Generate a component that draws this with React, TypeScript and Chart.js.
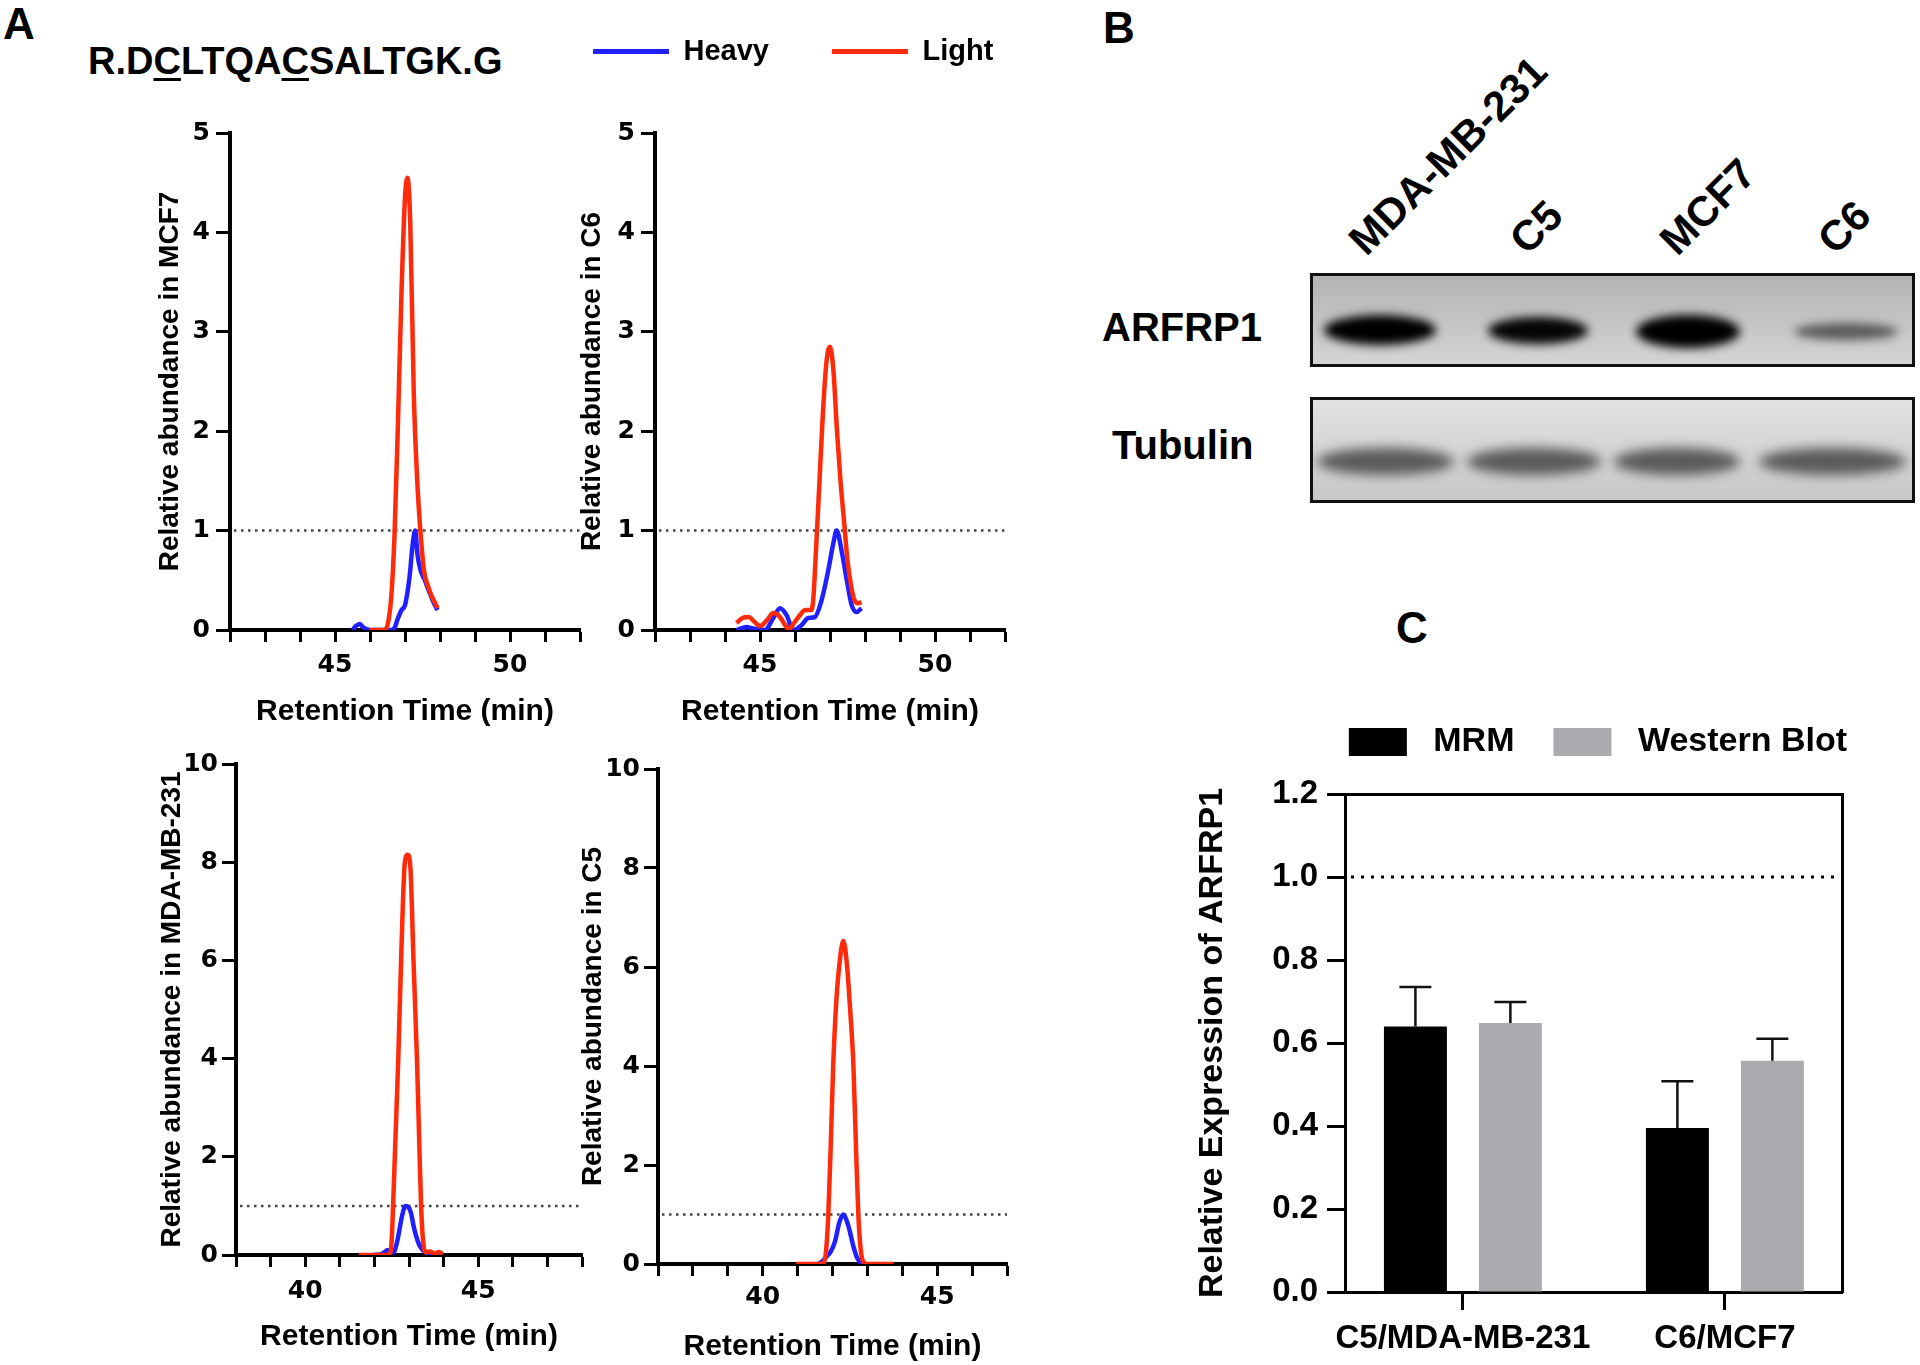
import React, { useEffect, useRef } from 'react';
import { Chart, registerables } from 'chart.js';

Chart.register(...registerables);

const FONT = "'Liberation Sans', Arial, Helvetica, sans-serif";
const TICK_FONT = "'DejaVu Sans', 'Liberation Sans', Arial, sans-serif";
const BLUE = '#1f1fff';
const RED = '#ff2a0a';
const WB_GRAY = '#ababaf';

// ---------------- Panel A : MRM chromatograms ----------------
const MCF7_LIGHT_TIME = [46.0, 46.2, 46.4, 46.5, 46.6, 46.7, 46.8, 46.9, 47.0, 47.07, 47.15, 47.25, 47.35, 47.45, 47.55, 47.65, 47.75, 47.85, 47.93];
const MCF7_LIGHT = [0, 0, 0, 0.05, 0.3, 0.95, 2.1, 3.4, 4.35, 4.55, 4.1, 2.4, 1.5, 0.95, 0.58, 0.45, 0.35, 0.28, 0.22];
const MCF7_HEAVY_TIME = [45.5, 45.6, 45.7, 45.8, 45.9, 46.0, 46.3, 46.6, 46.7, 46.8, 46.9, 47.0, 47.1, 47.15, 47.2, 47.29, 47.36, 47.43, 47.5, 47.57, 47.65, 47.71, 47.8, 47.93];
const MCF7_HEAVY = [0, 0.04, 0.06, 0.03, 0.01, 0, 0, 0, 0.02, 0.12, 0.2, 0.25, 0.45, 0.6, 0.8, 1.0, 0.75, 0.62, 0.55, 0.5, 0.42, 0.37, 0.29, 0.2];

const C6_LIGHT_TIME = [44.33, 44.5, 44.67, 44.85, 45.0, 45.2, 45.38, 45.55, 45.7, 45.82, 45.95, 46.1, 46.3, 46.45, 46.52, 46.6, 46.7, 46.8, 46.9, 47.0, 47.1, 47.2, 47.3, 47.4, 47.5, 47.6, 47.7, 47.8, 47.9];
const C6_LIGHT = [0.07, 0.12, 0.13, 0.08, 0.04, 0.1, 0.17, 0.14, 0.06, 0.01, 0.06, 0.13, 0.2, 0.2, 0.3, 0.8, 1.5, 2.2, 2.7, 2.85, 2.6, 2.0, 1.5, 1.1, 0.7, 0.45, 0.3, 0.27, 0.28];
const C6_HEAVY_TIME = [44.33, 44.5, 44.62, 44.75, 44.9, 45.14, 45.38, 45.57, 45.76, 45.95, 46.19, 46.38, 46.57, 46.76, 46.95, 47.1, 47.19, 47.33, 47.48, 47.62, 47.76, 47.9];
const C6_HEAVY = [0, 0.02, 0.03, 0.02, 0.01, 0, 0.12, 0.22, 0.15, 0, 0.05, 0.12, 0.13, 0.3, 0.6, 0.88, 1.0, 0.8, 0.5, 0.25, 0.18, 0.22];

const MDA_LIGHT_TIME = [41.55, 42.0, 42.3, 42.45, 42.5, 42.54, 42.6, 42.69, 42.78, 42.88, 42.96, 43.04, 43.13, 43.23, 43.3, 43.35, 43.42, 43.5, 43.6, 43.75, 43.85, 43.98];
const MDA_LIGHT = [0, 0, 0, 0.02, 0.3, 1.0, 2.2, 4.0, 6.2, 8.0, 8.15, 7.9, 6.0, 4.0, 2.2, 1.0, 0.2, 0.05, 0.07, 0.03, 0.06, 0.02];
const MDA_HEAVY_TIME = [41.99, 42.2, 42.3, 42.38, 42.47, 42.55, 42.65, 42.72, 42.8, 42.9, 42.98, 43.06, 43.13, 43.2, 43.3, 43.4, 43.5, 43.64, 43.8, 43.93];
const MDA_HEAVY = [0, 0.02, 0.06, 0.1, 0.06, 0.05, 0.25, 0.5, 0.8, 1.0, 0.98, 0.85, 0.6, 0.4, 0.2, 0.1, 0.05, 0.02, 0.01, 0];

const C5_LIGHT_TIME = [40.96, 41.3, 41.6, 41.75, 41.82, 41.88, 41.95, 42.02, 42.1, 42.19, 42.31, 42.42, 42.5, 42.6, 42.68, 42.74, 42.8, 42.88, 43.0, 43.4, 43.75];
const C5_LIGHT = [0, 0, 0, 0.02, 0.3, 1.0, 2.4, 4.0, 5.2, 6.0, 6.53, 6.0, 5.2, 4.0, 2.2, 1.0, 0.35, 0.05, 0, 0, 0];
const C5_HEAVY_TIME = [41.59, 41.7, 41.83, 41.95, 42.07, 42.2, 42.31, 42.42, 42.5, 42.6, 42.69, 42.78, 42.84];
const C5_HEAVY = [0, 0.05, 0.15, 0.25, 0.45, 0.85, 1.0, 0.85, 0.65, 0.35, 0.15, 0.04, 0];

const TOP_RT_TICK_LABELS = [45, 50];
const BOTTOM_RT_TICK_LABELS = [40, 45];
const REF_RATIO = 1;

// ---------------- Panel B : western blot ----------------
const BLOT_LANES = ['MDA-MB-231', 'C5', 'MCF7', 'C6'];

// ---------------- Panel C : bar chart ----------------
const C_GROUPS = ['C5/MDA-MB-231', 'C6/MCF7'];
const MRM_MEAN = [0.64, 0.395];
const MRM_SD = [0.095, 0.113];
const WB_MEAN = [0.648, 0.557];
const WB_SD = [0.051, 0.053];
const C_Y_MAX = 1.2;
const C_Y_STEP = 0.2;

// ---------------- plugins ----------------
const refLinePlugin = {
  id: 'refLine',
  beforeDatasetsDraw(chart: any, _args: any, opts: any) {
    if (!opts || opts.value === undefined) return;
    const y = chart.scales.y.getPixelForValue(opts.value);
    const { left, right } = chart.chartArea;
    const ctx = chart.ctx;
    ctx.save();
    ctx.strokeStyle = opts.color;
    ctx.lineWidth = opts.width;
    ctx.lineCap = opts.cap || 'butt';
    ctx.setLineDash(opts.dash);
    ctx.beginPath();
    ctx.moveTo(left + (opts.gap || 0), y);
    ctx.lineTo(right, y);
    ctx.stroke();
    ctx.restore();
  },
};

const errorBarPlugin = {
  id: 'errorBars',
  afterDatasetsDraw(chart: any, _args: any, opts: any) {
    if (!opts || !opts.enabled) return;
    const ctx = chart.ctx;
    const yScale = chart.scales.y;
    chart.data.datasets.forEach((ds: any, i: number) => {
      const errs = ds.errors;
      if (!errs) return;
      const meta = chart.getDatasetMeta(i);
      meta.data.forEach((bar: any, j: number) => {
        const d = ds.data[j];
        const v = typeof d === 'object' ? d.y : d;
        const top = yScale.getPixelForValue(v + errs[j]);
        ctx.save();
        ctx.strokeStyle = opts.color;
        ctx.lineWidth = opts.width;
        ctx.beginPath();
        ctx.moveTo(bar.x, bar.y);
        ctx.lineTo(bar.x, top);
        ctx.moveTo(bar.x - opts.cap, top);
        ctx.lineTo(bar.x + opts.cap, top);
        ctx.stroke();
        ctx.restore();
      });
    });
  },
};

Chart.register(refLinePlugin as any, errorBarPlugin as any);

const zip = (t: number[], v: number[]) => t.map((x, i) => ({ x, y: v[i] }));

type Box = { left: number; top: number; width: number; height: number };

type ChromSpec = {
  box: Box;
  plotLeft: number;
  plotRight: number;
  plotTop: number;
  plotBottom: number;
  xMin: number;
  xMax: number;
  xLabels: number[];
  yMax: number;
  yStep: number;
  yTitle: string;
  yTitleCenterX: number;
  yTickRight: number;
  xTickCenterY: number;
  xTitleCenterY: number;
  heavyT: number[];
  heavyY: number[];
  lightT: number[];
  lightY: number[];
  legend?: boolean;
  spacer?: number;
  rightSpacer?: number;
};

function chromConfig(p: ChromSpec): any {
  const b = p.box;
  const yAxisWidth = p.plotLeft - b.left;
  const xAxisHeight = b.top + b.height - p.plotBottom;
  const rightSpacer = p.rightSpacer || 0;
  const padRight = b.left + b.width - p.plotRight - rightSpacer;
  const padTop = p.legend ? 0 : p.plotTop - b.top;
  const yTickLen = 14;
  const xTickLen = 12;
  const yTitleFont = 28;
  const xTitleFont = 30;
  const tickFont = 25;
  const scales: any = {
    x: {
      type: 'linear',
      min: p.xMin,
      max: p.xMax,
      afterFit: (s: any) => {
        s.height = xAxisHeight;
      },
      ticks: {
        stepSize: 1,
        autoSkip: false,
        maxRotation: 0,
        minRotation: 0,
        color: '#000',
        font: { family: TICK_FONT, size: tickFont, weight: 'bold' },
        padding: p.xTickCenterY - p.plotBottom - xTickLen - (tickFont * 1.2) / 2,
        callback: (v: any) => (p.xLabels.includes(Number(v)) ? String(v) : ''),
      },
      grid: { drawOnChartArea: false, drawTicks: true, tickLength: xTickLen, tickWidth: 3, tickColor: '#000' },
      border: { display: true, color: '#000', width: 4 },
      title: {
        display: true,
        text: 'Retention Time (min)',
        color: '#000',
        font: { family: FONT, size: xTitleFont, weight: 'bold' },
        padding: { top: 0, bottom: b.top + b.height - p.xTitleCenterY - (xTitleFont * 1.2) / 2 },
      },
    },
    y: {
      type: 'linear',
      min: 0,
      max: p.yMax,
      afterFit: (s: any) => {
        s.width = yAxisWidth;
      },
      ticks: {
        stepSize: p.yStep,
        color: '#000',
        font: { family: TICK_FONT, size: tickFont, weight: 'bold' },
        padding: Math.max(2, p.plotLeft - yTickLen - p.yTickRight),
      },
      grid: { drawOnChartArea: false, drawTicks: true, tickLength: yTickLen, tickWidth: 3, tickColor: '#000' },
      border: { display: true, color: '#000', width: 4 },
      title: {
        display: true,
        text: p.yTitle,
        color: '#000',
        font: { family: FONT, size: yTitleFont, weight: 'bold' },
        padding: { top: p.yTitleCenterX - b.left - (yTitleFont * 1.2) / 2, bottom: 0 },
      },
    },
  };
  if (p.legend) {
    scales.spacer = {
      type: 'linear',
      position: 'top',
      display: true,
      grid: { display: false },
      ticks: { display: false },
      border: { display: false },
      afterFit: (s: any) => {
        s.height = p.spacer || 0;
      },
    };
  }
  if (rightSpacer) {
    scales.rightSpacer = {
      type: 'linear',
      position: 'right',
      display: true,
      grid: { display: false },
      ticks: { display: false },
      border: { display: false },
      afterFit: (s: any) => {
        s.width = rightSpacer;
      },
    };
  }
  return {
    type: 'line',
    data: {
      datasets: [
        {
          label: 'Heavy',
          data: zip(p.heavyT, p.heavyY),
          borderColor: BLUE,
          backgroundColor: BLUE,
          borderWidth: 4.5,
          pointRadius: 0,
          fill: false,
          cubicInterpolationMode: 'monotone',
          order: 1,
        },
        {
          label: 'Light',
          data: zip(p.lightT, p.lightY),
          borderColor: RED,
          backgroundColor: RED,
          borderWidth: 4.5,
          pointRadius: 0,
          fill: false,
          cubicInterpolationMode: 'monotone',
          order: 0,
        },
      ],
    },
    options: {
      responsive: false,
      maintainAspectRatio: false,
      animation: false,
      devicePixelRatio: 1,
      layout: { padding: { left: 0, top: padTop, right: padRight, bottom: 0 } },
      plugins: {
        legend: p.legend
          ? {
              display: true,
              position: 'top',
              align: 'start',
              labels: {
                usePointStyle: true,
                pointStyle: 'line',
                pointStyleWidth: 76,
                padding: 63,
                color: '#000',
                font: { family: FONT, size: 29, weight: 'bold' },
                sort: (a: any, c: any) => a.datasetIndex - c.datasetIndex,
                generateLabels: (chart: any) =>
                  (Chart.defaults.plugins.legend.labels as any)
                    .generateLabels(chart)
                    .map((l: any) => ({ ...l, lineWidth: 5 })),
              },
            }
          : { display: false },
        tooltip: { enabled: false },
        refLine: { value: REF_RATIO, color: '#444', width: 2.5, dash: [2.5, 4.5], gap: 4 },
        errorBars: { enabled: false },
      },
      scales,
    },
  };
}

function barConfig(): any {
  const toPoints = (vals: number[]) => vals.map((y, i) => ({ x: i, y }));
  return {
    type: 'bar',
    data: {
      datasets: [
        {
          label: ' MRM',
          data: toPoints(MRM_MEAN),
          errors: MRM_SD,
          backgroundColor: '#000000',
          borderWidth: 0,
          categoryPercentage: 0.725,
          barPercentage: 0.663,
        },
        {
          label: ' Western Blot',
          data: toPoints(WB_MEAN),
          errors: WB_SD,
          backgroundColor: WB_GRAY,
          borderWidth: 0,
          categoryPercentage: 0.725,
          barPercentage: 0.663,
        },
      ],
    },
    options: {
      responsive: false,
      maintainAspectRatio: false,
      animation: false,
      devicePixelRatio: 1,
      layout: { padding: { left: 0, top: 6, right: 34, bottom: 0 } },
      plugins: {
        legend: {
          display: true,
          position: 'top',
          align: 'end',
          labels: {
            boxWidth: 58,
            boxHeight: 28,
            padding: 39,
            color: '#000',
            font: { family: FONT, size: 34, weight: 'bold' },
          },
        },
        tooltip: { enabled: false },
        refLine: { value: REF_RATIO, color: '#000', width: 3, dash: [3, 7], gap: 6 },
        errorBars: { enabled: true, color: '#111', width: 2.5, cap: 16 },
      },
      scales: {
        x: {
          type: 'linear',
          position: 'bottom',
          offset: false,
          min: -0.45,
          max: 1.447,
          afterBuildTicks: (s: any) => {
            s.ticks = C_GROUPS.map((_, i) => ({ value: i }));
          },
          afterFit: (s: any) => {
            s.height = 73;
          },
          grid: { offset: false, drawOnChartArea: false, drawTicks: true, tickLength: 18, tickWidth: 3, tickColor: '#000' },
          border: { display: true, color: '#000', width: 3 },
          ticks: {
            autoSkip: false,
            maxRotation: 0,
            color: '#000',
            font: { family: FONT, size: 33, weight: 'bold' },
            padding: 9,
            callback: (v: any) => C_GROUPS[Math.round(Number(v))] ?? '',
          },
        },
        y: {
          type: 'linear',
          min: 0,
          max: C_Y_MAX,
          afterFit: (s: any) => {
            s.width = 165;
          },
          ticks: {
            stepSize: C_Y_STEP,
            color: '#000',
            font: { family: FONT, size: 33, weight: 'bold' },
            padding: 9,
            callback: (v: any) => Number(v).toFixed(1),
          },
          grid: { drawOnChartArea: false, drawTicks: true, tickLength: 18, tickWidth: 3, tickColor: '#000' },
          border: { display: true, color: '#000', width: 3 },
          title: {
            display: true,
            text: 'Relative Expression of ARFRP1',
            color: '#000',
            font: { family: FONT, size: 34, weight: 'bold' },
            padding: { top: 12.6, bottom: 0 },
          },
        },
        xTop: {
          type: 'linear',
          position: 'top',
          display: true,
          grid: { display: false },
          ticks: { display: false },
          border: { display: true, color: '#000', width: 3 },
          afterFit: (s: any) => {
            s.height = 25;
          },
        },
        yRight: {
          type: 'linear',
          position: 'right',
          display: true,
          grid: { display: false },
          ticks: { display: false },
          border: { display: true, color: '#000', width: 3 },
          afterFit: (s: any) => {
            s.width = 44;
          },
        },
      },
    },
  };
}

function ChartCanvas({ box, makeConfig }: { box: Box; makeConfig: () => any }) {
  const ref = useRef<HTMLCanvasElement | null>(null);
  useEffect(() => {
    if (!ref.current) return;
    const chart = new Chart(ref.current, makeConfig());
    return () => chart.destroy();
  }, []);
  return (
    <canvas
      ref={ref}
      width={box.width}
      height={box.height}
      style={{ position: 'absolute', left: box.left, top: box.top, width: box.width, height: box.height }}
    />
  );
}

const SPECS: ChromSpec[] = [
  {
    box: { left: 140, top: 100, width: 480, height: 640 },
    plotLeft: 230, plotRight: 580, plotTop: 133, plotBottom: 630,
    xMin: 42, xMax: 52, xLabels: TOP_RT_TICK_LABELS, yMax: 5, yStep: 1,
    yTitle: 'Relative abundance in MCF7', yTitleCenterX: 170, yTickRight: 210,
    xTickCenterY: 665, xTitleCenterY: 712,
    heavyT: MCF7_HEAVY_TIME, heavyY: MCF7_HEAVY, lightT: MCF7_LIGHT_TIME, lightY: MCF7_LIGHT,
  },
  {
    box: { left: 530, top: -26, width: 570, height: 766 },
    plotLeft: 655, plotRight: 1005, plotTop: 133, plotBottom: 630,
    xMin: 42, xMax: 52, xLabels: TOP_RT_TICK_LABELS, yMax: 5, yStep: 1,
    yTitle: 'Relative abundance in C6', yTitleCenterX: 592, yTickRight: 635,
    xTickCenterY: 665, xTitleCenterY: 712,
    heavyT: C6_HEAVY_TIME, heavyY: C6_HEAVY, lightT: C6_LIGHT_TIME, lightY: C6_LIGHT,
    legend: true, spacer: 57, rightSpacer: 95,
  },
  {
    box: { left: 140, top: 740, width: 480, height: 625 },
    plotLeft: 236, plotRight: 582, plotTop: 764, plotBottom: 1255,
    xMin: 38, xMax: 48, xLabels: BOTTOM_RT_TICK_LABELS, yMax: 10, yStep: 2,
    yTitle: 'Relative abundance in MDA-MB-231', yTitleCenterX: 172, yTickRight: 218,
    xTickCenterY: 1291, xTitleCenterY: 1337,
    heavyT: MDA_HEAVY_TIME, heavyY: MDA_HEAVY, lightT: MDA_LIGHT_TIME, lightY: MDA_LIGHT,
  },
  {
    box: { left: 560, top: 740, width: 470, height: 625 },
    plotLeft: 658, plotRight: 1007, plotTop: 769, plotBottom: 1264,
    xMin: 37, xMax: 47, xLabels: BOTTOM_RT_TICK_LABELS, yMax: 10, yStep: 2,
    yTitle: 'Relative abundance in C5', yTitleCenterX: 593, yTickRight: 640,
    xTickCenterY: 1297, xTitleCenterY: 1347,
    heavyT: C5_HEAVY_TIME, heavyY: C5_HEAVY, lightT: C5_LIGHT_TIME, lightY: C5_LIGHT,
  },
];

const txt = (extra: React.CSSProperties): React.CSSProperties => ({
  position: 'absolute',
  fontFamily: FONT,
  fontWeight: 'bold',
  lineHeight: 1,
  color: '#000',
  whiteSpace: 'nowrap',
  ...extra,
});

function Band({ cx, cy, w, h, color, blur, ox, oy }: { cx: number; cy: number; w: number; h: number; color: string; blur: number; ox: number; oy: number }) {
  return (
    <div
      style={{
        position: 'absolute',
        left: cx - w / 2 - ox,
        top: cy - h / 2 - oy,
        width: w,
        height: h,
        borderRadius: '50%',
        background: color,
        filter: `blur(${blur}px)`,
      }}
    />
  );
}

function WesternBlot() {
  const ux = 1313;
  const uy1 = 276;
  const uy2 = 400;
  const laneAnchors = [
    [1367, 258],
    [1528, 257],
    [1678, 258],
    [1836, 257],
  ];
  const fs = 42;
  const base = Math.round(fs * 0.85);
  return (
    <>
      {BLOT_LANES.map((name, i) => (
        <div
          key={name}
          style={txt({
            left: laneAnchors[i][0],
            top: laneAnchors[i][1] - base,
            fontSize: fs,
            transformOrigin: `0px ${base}px`,
            transform: 'rotate(-45deg)',
          })}
        >
          {name}
        </div>
      ))}
      <div style={txt({ left: 1102, top: 307, fontSize: 40 })}>ARFRP1</div>
      <div style={txt({ left: 1112, top: 425, fontSize: 40 })}>Tubulin</div>
      <div
        style={{
          position: 'absolute',
          left: 1310,
          top: 273,
          width: 605,
          height: 94,
          boxSizing: 'border-box',
          border: '3px solid #111',
          overflow: 'hidden',
          background: 'linear-gradient(180deg, #b3b3b3 0%, #c0c0c0 40%, #d4d4d4 100%)',
        }}
      >
        <Band cx={1380} cy={330} w={112} h={30} color="#000" blur={5} ox={ux} oy={uy1} />
        <Band cx={1538} cy={330} w={100} h={27} color="#050505" blur={5} ox={ux} oy={uy1} />
        <Band cx={1688} cy={331} w={104} h={33} color="#000" blur={5} ox={ux} oy={uy1} />
        <Band cx={1846} cy={331} w={104} h={17} color="#5a5a5a" blur={5} ox={ux} oy={uy1} />
      </div>
      <div
        style={{
          position: 'absolute',
          left: 1310,
          top: 397,
          width: 605,
          height: 106,
          boxSizing: 'border-box',
          border: '3px solid #111',
          overflow: 'hidden',
          background: 'linear-gradient(180deg, #e2e2e2 0%, #d6d6d6 45%, #c8c8c8 100%)',
        }}
      >
        <Band cx={1385} cy={461} w={137} h={27} color="#5a5a5a" blur={6} ox={ux} oy={uy2} />
        <Band cx={1534} cy={461} w={134} h={27} color="#5a5a5a" blur={6} ox={ux} oy={uy2} />
        <Band cx={1677} cy={461} w={126} h={27} color="#5a5a5a" blur={6} ox={ux} oy={uy2} />
        <Band cx={1832} cy={461} w={147} h={27} color="#5a5a5a" blur={6} ox={ux} oy={uy2} />
      </div>
    </>
  );
}

export default function App() {
  const u: React.CSSProperties = { textDecoration: 'underline', textDecorationThickness: '3px', textUnderlineOffset: '4px' };
  return (
    <div
      style={{
        position: 'absolute',
        left: 0,
        top: 0,
        width: 1920,
        height: 1365,
        overflow: 'hidden',
        background: '#ffffff',
      }}
    >
      <div style={txt({ left: 3, top: 2, fontSize: 44 })}>A</div>
      <div style={txt({ left: 1103, top: 6, fontSize: 44 })}>B</div>
      <div style={txt({ left: 1396, top: 606, fontSize: 44 })}>C</div>
      <div style={txt({ left: 88, top: 42, fontSize: 38 })}>
        R.D<span style={u}>C</span>LTQA<span style={u}>C</span>SALTGK.G
      </div>
      {SPECS.map((s, i) => (
        <ChartCanvas key={i} box={s.box} makeConfig={() => chromConfig(s)} />
      ))}
      <WesternBlot />
      <ChartCanvas box={{ left: 1180, top: 680, width: 740, height: 685 }} makeConfig={barConfig} />
    </div>
  );
}
